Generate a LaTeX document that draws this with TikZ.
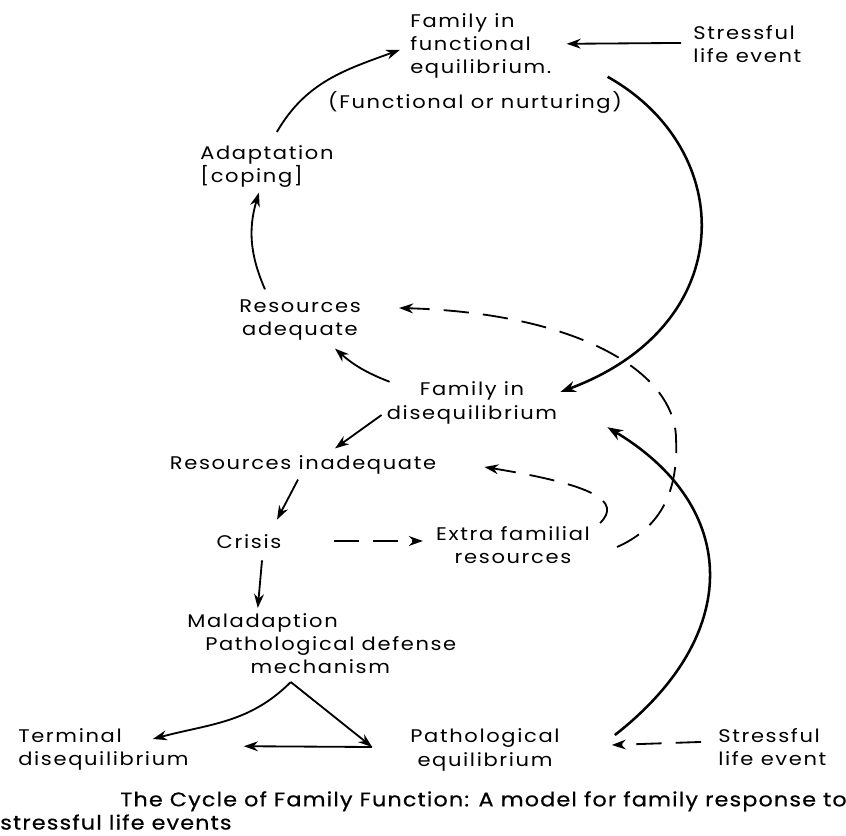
\documentclass[tikz,border=0pt]{standalone}
\usepackage{fontspec}
\setmainfont{Poppins}[FakeStretch=1.15,LetterSpace=9]
\newfontfamily\capfont{Poppins}[FakeStretch=1.13,LetterSpace=6,FakeBold=0.6]
\usetikzlibrary{calc,arrows.meta}

\begin{document}
\begin{tikzpicture}[x=0.025cm,y=0.025cm,
  txt/.style={inner sep=0pt,font=\fontsize{13}{16.5}\selectfont},
  captxt/.style={inner sep=0pt,font=\capfont\fontsize{14}{16.5}\selectfont},
  arr/.style={-{Stealth[length=10pt,width=7pt]},line width=1.3pt},
  bigarr/.style={-{Stealth[length=11pt,width=8pt]},line width=1.8pt},
  dasharr/.style={-{Stealth[length=10pt,width=7pt]},line width=1.3pt,dash pattern=on 18pt off 10pt}]
  \fill[white] (0,0) rectangle (846,835);
  \useasboundingbox (0,0) rectangle (846,835);
  \node[txt,anchor=north west,align=left] (func) at (410,822) {Family in\\functional\\equilibrium.};
  \node[txt] (nurt) at (475,733) {(Functional or nurturing)};
  \node[txt,anchor=north west,align=left] (lifeA) at (693,810) {Stressful\\life event};
  \node[txt,anchor=north west,align=left] (adapt) at (200,690) {Adaptation\\{[coping]}};
  \node[txt,align=center] (adeq) at (300,515) {Resources\\adequate};
  \node[txt,align=center] (diseq) at (472,432) {Family in\\disequilibrium};
  \node[txt] (inadeq) at (303,370) {Resources inadequate};
  \node[txt] (crisis) at (249,293) {Crisis};
  \node[txt,align=center] (extra) at (513,290) {Extra familial\\resources};
  \node[txt,anchor=north west,align=left] (mal) at (187,222) {Maladaption\\\hspace*{0.45cm}Pathological defense\\\hspace*{1.58cm}mechanism};
  \node[txt,anchor=north west,align=left] (term) at (18,107) {Terminal\\disequilibrium};
  \node[txt,align=center] (patheq) at (485,85) {Pathological\\equilibrium};
  \node[txt,anchor=north west,align=left] (lifeB) at (718,107) {Stressful\\life event};
  \node[captxt,anchor=north west,align=left] (cap) at (0,44) {\hspace*{3cm}The Cycle of Family Function: A model for family response to\\stressful life events};

  \draw[arr] ($(lifeA.west)+(-12,1)$) -- ($(func.east)+(15,2)$);
  \draw[arr] ($(adapt.north)+(10,13)$) to[out=60,in=200] ($(func.west)+(-10,-4)$);
  \draw[arr] ($(adeq.north)+(-35,10)$) to[bend left=20] ($(adapt.south)+(-8,-5)$);
  \draw[arr] ($(diseq.north west)+(3,0)$) to[bend left=10] ($(adeq.south)+(35,-8)$);
  \draw[bigarr] ($(func.east)+(56,-31)$) .. controls +(130,-73) and +(180,67) .. ($(diseq.east)+(3,11)$);
  \draw[arr] ($(diseq.west)+(-5,-12)$) -- ($(inadeq.north)+(32,7)$);
  \draw[arr] ($(inadeq.south)+(-5,-5)$) -- ($(crisis.north)+(28,15)$);
  \draw[dasharr] ($(crisis.east)+(52,1)$) -- ($(extra.west)+(-13,4)$);
  \draw[arr] ($(crisis.south)+(13,-11)$) -- ($(mal.north)+(-64,5)$);
  \draw[dasharr] ($(extra.east)+(27,-2)$) .. controls +(45,20) and +(2,-50) .. ($(extra.east)+(86,105)$) .. controls +(0,70) and +(175,-5) .. ($(adeq.east)+(38,12)$);
  \draw[dasharr] ($(extra.north east)+(10,3)$) .. controls +(22,22) and +(110,-18) .. ($(inadeq.east)+(48,-2)$);

  \coordinate (apex) at ($(mal.south)+(-31,-8)$);
  \coordinate (join) at ($(patheq.west)+(-38,3)$);
  \draw[arr] (apex) to[out=225,in=15] ($(term.north east)+(-36,-11)$);
  \draw[arr] (apex) -- (join);
  \draw[arr] (join) -- ($(term.east)+(55,3)$);
  \draw[dasharr] ($(lifeB.west)+(-17,5)$) -- ($(patheq.east)+(52,5)$);
  \draw[bigarr] ($(patheq.east)+(55,15)$) .. controls +(128,100) and +(133,-80) .. ($(diseq.south east)+(50,-3)$);
\end{tikzpicture}
\end{document}
